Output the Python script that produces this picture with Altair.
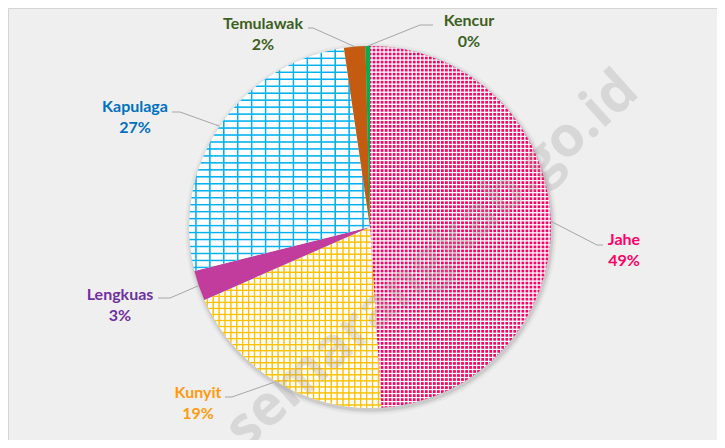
import math
import altair as alt
import pandas as pd

# ---------------- data ----------------
categories = ["Jahe", "Kunyit", "Lengkuas", "Kapulaga", "Temulawak", "Kencur"]
values = [49.0, 19.4, 2.7, 26.6, 1.9, 0.4]
watermark_text = "semarangkab.go.id"

total = sum(values)
pct_text = [f"{round(v / total * 100)}%" for v in values]

# ---------------- layout / style ----------------
W, H = 709, 432
CX, CY, R = 362, 219, 181
LEADER = "#A6A6A6"
FONT = "Lato"

label_color = {
    "Jahe": "#FF0066", "Kunyit": "#FF9B0F", "Lengkuas": "#7030A0",
    "Kapulaga": "#0070C0", "Temulawak": "#3D5F22", "Kencur": "#3D5F22",
}
# label centre (x, y), leader elbow (x, y), leader end x
label_layout = {
    "Jahe": (616, 242, 589, 237, 595),
    "Kunyit": (190, 395, 224, 389, 217),
    "Lengkuas": (112, 297, 162, 290, 150),
    "Kapulaga": (127, 109, 172, 104, 164),
    "Temulawak": (255, 26, 305, 20, 300),
    "Kencur": (461, 23, 412, 17, 425),
}

df = pd.DataFrame({"name": categories, "value": values, "idx": list(range(len(categories)))})

ann = df.copy()
ann["pct"] = pct_text
ann["tcolor"] = [label_color[c] for c in categories]
ann["lx"] = [label_layout[c][0] for c in categories]
ann["ly"] = [label_layout[c][1] for c in categories]
ann["bx"] = [label_layout[c][2] for c in categories]
ann["by"] = [label_layout[c][3] for c in categories]
ann["tx"] = [label_layout[c][4] for c in categories]

theta_scale = alt.Scale(domain=[0, total], range=[0, 2 * math.pi])


def cumulative(chart):
    return chart.transform_window(
        cum="sum(value)", sort=[alt.SortField("idx", order="ascending")], frame=[None, 0]
    ).transform_calculate(start="datum.cum - datum.value")


base = cumulative(alt.Chart(df))


def sector_bbox(name):
    i = categories.index(name)
    s = sum(values[:i]) / total * 2 * math.pi
    e = sum(values[: i + 1]) / total * 2 * math.pi
    pts = [(0.0, 0.0), (math.sin(s), -math.cos(s)), (math.sin(e), -math.cos(e))]
    for k in range(5):
        a = k * math.pi / 2
        if s < a < e:
            pts.append((math.sin(a), -math.cos(a)))
    xs = [p[0] for p in pts]
    ys = [p[1] for p in pts]
    return (max(xs) - min(xs)) * R, (max(ys) - min(ys)) * R


def rgba0(hexcol):
    h = hexcol.lstrip("#")
    r, g, b = int(h[0:2], 16), int(h[2:4], 16), int(h[4:6], 16)
    return f"rgba({r},{g},{b},0)"


def stripes(color, extent, period, width, vertical, ramp=0.9):
    """soft-edged stripes (anti-aliased) made from a many-stop linear gradient"""
    n = max(1, round(extent / period))
    pp = extent / n
    ramp = min(ramp, width)
    clear = rgba0(color)
    stops = []
    last = 0.0
    for k in range(n):
        c0 = k * pp + pp / 2
        pts = [
            (c0 - width / 2 - ramp / 2, clear),
            (c0 - width / 2 + ramp / 2, color),
            (c0 + width / 2 - ramp / 2, color),
            (c0 + width / 2 + ramp / 2, clear),
        ]
        for pos, col in pts:
            off = min(1.0, max(last, pos / extent))
            last = off
            stops.append(alt.GradientStop(offset=round(off, 6), color=col))
    if vertical:
        return alt.LinearGradient(gradient="linear", stops=stops, x1=0, y1=0, x2=1, y2=0)
    return alt.LinearGradient(gradient="linear", stops=stops, x1=0, y1=0, x2=0, y2=1)


def sector(name, fill):
    return base.transform_filter(alt.datum.name == name).mark_arc(
        radius=R, fill=fill, strokeWidth=0
    ).encode(
        theta=alt.Theta("start:Q", scale=theta_scale),
        theta2=alt.Theta2("cum:Q"),
        x=alt.value(CX),
        y=alt.value(CY),
    )


# pattern definitions: (base fill, [(colour, period, width, vertical), ...])
patterns = {
    "Jahe": ("#FF0066", [("#FFFFFF", 4.0, 1.3, True), ("#FFFFFF", 4.0, 1.3, False)]),
    "Kunyit": ("#FFFFFF", [("#FFC000", 6.0, 1.4, True), ("#FFC000", 6.0, 1.4, False)]),
    "Lengkuas": ("#C23C9E", []),
    "Kapulaga": ("#FFFFFF", [("#00B0F0", 7.0, 1.5, False), ("#00B0F0", 14.0, 1.5, True)]),
    "Temulawak": ("#C55A11", []),
    "Kencur": ("#00B050", []),
}

slice_layers = []
for name in categories:
    fill, overlays = patterns[name]
    slice_layers.append(sector(name, fill))
    bw, bh = sector_bbox(name)
    for col, period, width, vertical in overlays:
        extent = bw if vertical else bh
        slice_layers.append(sector(name, stripes(col, extent, period, width, vertical)))

# soft shadow behind the pie
one = pd.DataFrame({"k": [0]})
shadows = [
    alt.Chart(one).mark_arc(radius=R + rr, theta=0, theta2=2 * math.pi, color="#000000", opacity=op)
    .encode(x=alt.value(CX + 1), y=alt.value(CY + 2))
    for rr, op in [(5, 0.03), (3, 0.05), (1.5, 0.07)]
]

# leader lines
ann_base = cumulative(alt.Chart(ann)).transform_calculate(
    ang=f"(datum.cum - datum.value / 2) / {total} * 2 * PI"
).transform_calculate(
    ex=f"{CX} + {R} * sin(datum.ang)",
    ey=f"{CY} - {R} * cos(datum.ang)",
)

leader1 = ann_base.mark_rule(color=LEADER, strokeWidth=1).encode(
    x=alt.X("ex:Q", scale=None), y=alt.Y("ey:Q", scale=None),
    x2=alt.X2("bx:Q"), y2=alt.Y2("by:Q"),
)
leader2 = ann_base.mark_rule(color=LEADER, strokeWidth=1).encode(
    x=alt.X("bx:Q", scale=None), y=alt.Y("by:Q", scale=None),
    x2=alt.X2("tx:Q"), y2=alt.Y2("by:Q"),
)

name_text = alt.Chart(ann).mark_text(
    font=FONT, fontSize=16, fontWeight="bold", align="center", baseline="middle", dy=-10.5
).encode(
    x=alt.X("lx:Q", scale=None), y=alt.Y("ly:Q", scale=None),
    text="name:N", color=alt.Color("tcolor:N", scale=None),
)
pct_label = alt.Chart(ann).mark_text(
    font=FONT, fontSize=16, fontWeight="bold", align="center", baseline="middle", dy=10.5
).encode(
    x=alt.X("lx:Q", scale=None), y=alt.Y("ly:Q", scale=None),
    text="pct:N", color=alt.Color("tcolor:N", scale=None),
)

watermark = alt.Chart(pd.DataFrame({"t": [watermark_text]})).mark_text(
    font="Open Sans", fontSize=56, fontWeight="bold", angle=318,
    align="center", baseline="middle", color="#9A9A9A", opacity=0.28,
).encode(text="t:N", x=alt.value(424), y=alt.value(252))

chart = alt.layer(
    *shadows, *slice_layers, leader1, leader2, name_text, pct_label, watermark
).properties(
    width=W, height=H, padding=0,
    autosize=alt.AutoSizeParams(type="none"),
    background="#EFEFEF",
).configure_view(stroke="#D4D4D4", strokeWidth=1, fill="#EFEFEF")

chart.save("out.html", embed_options={"renderer": "svg", "actions": False})
